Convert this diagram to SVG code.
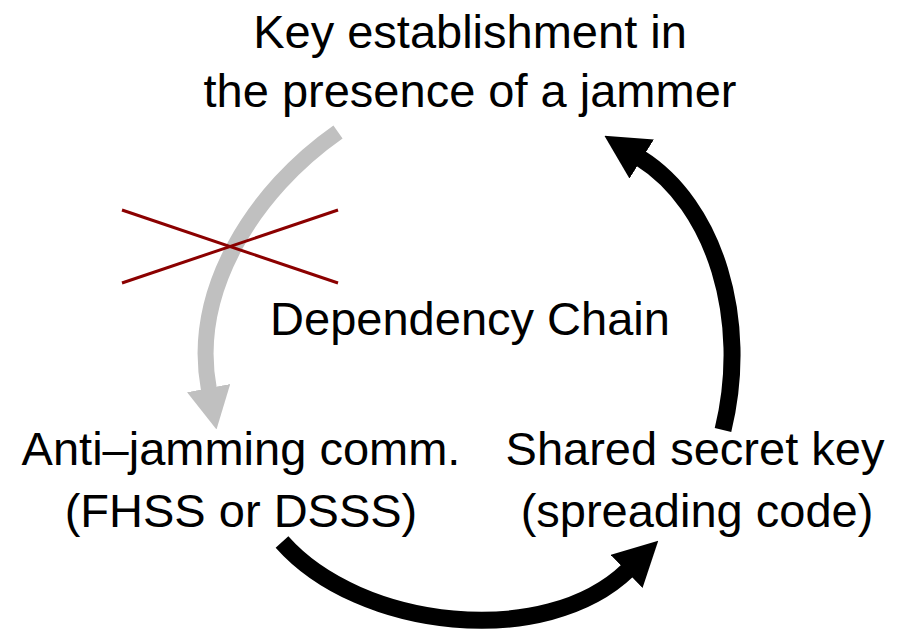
<svg xmlns="http://www.w3.org/2000/svg" width="905" height="629" viewBox="0 0 905 629">
  <style>
    .label { font-family: "Liberation Sans", Arial, sans-serif; font-size: 47px; fill: #000; text-anchor: middle; }
    .arc { fill: none; stroke-linecap: butt; }
    .arc-black { stroke: #000; stroke-width: 17; }
    .arc-grey { stroke: #c0c0c0; stroke-width: 16; }
    .cross { stroke: #8b0000; stroke-width: 3; }
  </style>
  <defs>
    <marker id="head-black" viewBox="0 0 44 46" refX="2" refY="23" markerWidth="44" markerHeight="46" markerUnits="userSpaceOnUse" orient="auto">
      <path d="M0,0 L44,23 L0,46 z" fill="#000"/>
    </marker>
    <marker id="head-grey" viewBox="0 0 44 46" refX="2" refY="23" markerWidth="42" markerHeight="44" markerUnits="userSpaceOnUse" orient="auto">
      <path d="M0,0 L44,23 L0,46 z" fill="#c0c0c0"/>
    </marker>
  </defs>
  <rect width="905" height="629" fill="#fff"/>

  <!-- cycle arrows -->
  <g id="connectors">
    <path class="arc arc-grey" d="M338,132 C255,190 190,290 209,390" marker-end="url(#head-grey)"/>
    <path class="arc arc-black" d="M282,542 C360,630 545,650 628,570" marker-end="url(#head-black)"/>
    <path class="arc arc-black" d="M723,430 C750,320 715,205 640,158" marker-end="url(#head-black)"/>
  </g>

  <!-- broken link marker -->
  <g id="cross">
    <line class="cross" x1="122" y1="210" x2="338" y2="283"/>
    <line class="cross" x1="122" y1="283" x2="338" y2="210"/>
  </g>

  <g id="key-establishment">
    <text class="label" x="470" y="48">Key establishment in</text>
    <text class="label" x="470" y="107">the presence of a jammer</text>
  </g>

  <g id="anti-jamming">
    <text class="label" x="241" y="465">Anti–jamming comm.</text>
    <text class="label" x="241" y="527">(FHSS or DSSS)</text>
  </g>

  <g id="shared-key">
    <text class="label" x="695" y="465">Shared secret key</text>
    <text class="label" x="697" y="527">(spreading code)</text>
  </g>

  <g id="chain-label">
    <text class="label" x="470" y="335">Dependency Chain</text>
  </g>
</svg>
